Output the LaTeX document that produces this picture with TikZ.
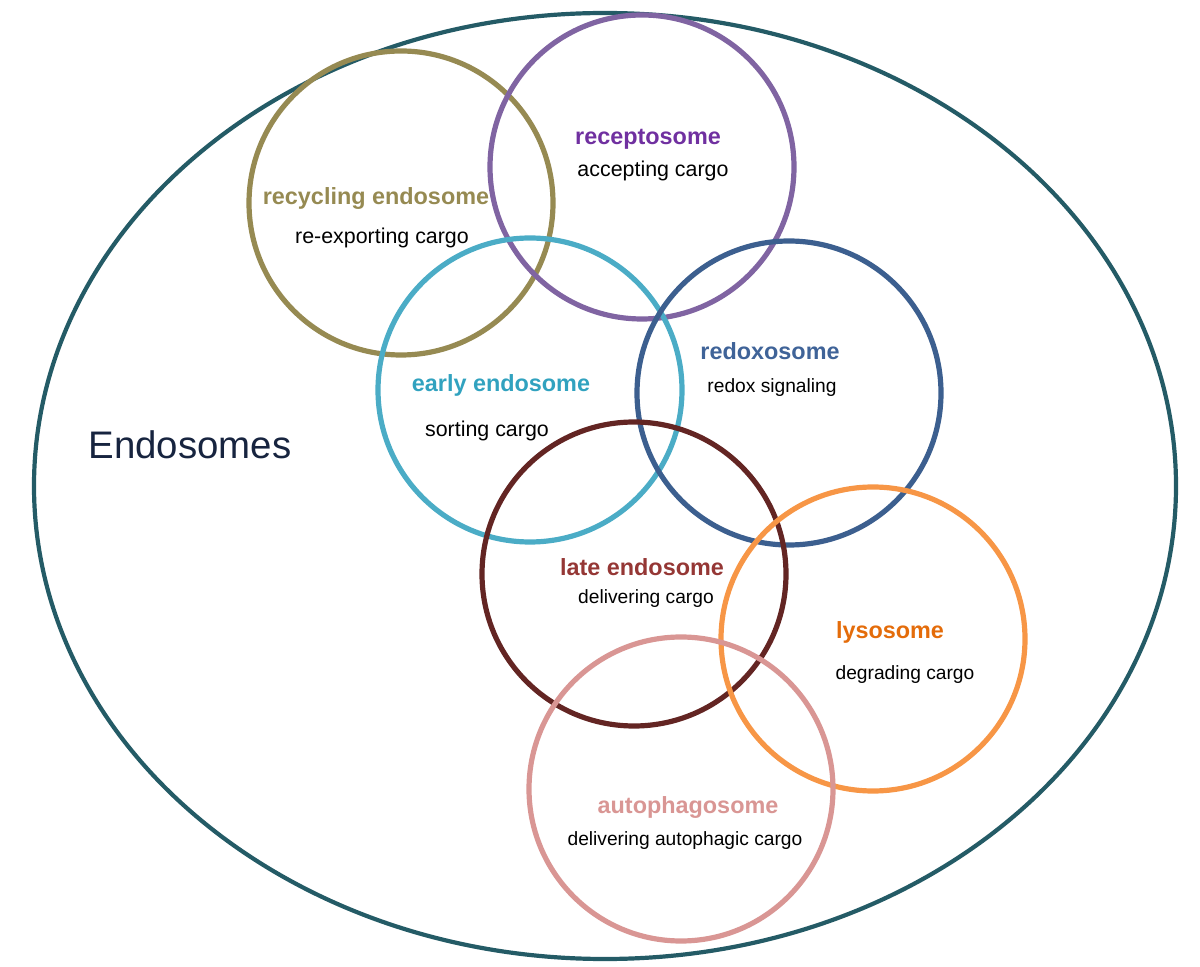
\documentclass[tikz,border=0pt]{standalone}
\usepackage{fontspec}
\setmainfont{Liberation Sans}
\usepackage{tikz}
\usepackage{xcolor}

\definecolor{outerteal}{HTML}{245B66}
\definecolor{recycol}{HTML}{968A52}
\definecolor{recepcol}{HTML}{8064A2}
\definecolor{receptxt}{HTML}{7030A0}
\definecolor{earlycol}{HTML}{4BACC6}
\definecolor{earlytxt}{HTML}{31A2BF}
\definecolor{redoxcol}{HTML}{3C5F8F}
\definecolor{redoxtxt}{HTML}{3F6398}
\definecolor{latecol}{HTML}{632523}
\definecolor{latetxt}{HTML}{953735}
\definecolor{lysocol}{HTML}{F79646}
\definecolor{lysotxt}{HTML}{E46C0A}
\definecolor{autocol}{HTML}{D99694}
\definecolor{navytxt}{HTML}{17243F}

\tikzset{
  ring/.style={circle, draw=#1, line width=2.6pt, minimum size=152pt, inner sep=0pt},
  celltitle/.style={text=#1, font=\fontsize{11.7}{14}\selectfont\bfseries, inner sep=0pt},
  celltask/.style={font=\fontsize{10.7}{13}\selectfont, inner sep=0pt},
  smalltask/.style={font=\fontsize{9.6}{12}\selectfont, inner sep=0pt}
}

\begin{document}
\begin{tikzpicture}[x=0.5pt,y=-0.5pt]
  \useasboundingbox (0,0) rectangle (1200,967);

  % Outer compartment
  \draw[outerteal, line width=2.1pt] (605,486) ellipse [x radius=571, y radius=473];
  \node[text=navytxt, font=\fontsize{19.2}{23}\selectfont, inner sep=0pt] (endo) at (190,445) {Endosomes};

  % Circles
  \node[ring=recycol] (recyc) at (401,203) {};
  \node[ring=recepcol] (recep) at (642,167) {};
  \node[ring=earlycol] (early) at (530,390) {};
  \node[ring=redoxcol] (redox) at (789,393) {};
  \node[ring=latecol] (late) at (634,574) {};
  \node[ring=lysocol] (lyso) at (873,639) {};
  \node[ring=autocol] (auto) at (681,789) {};

  % Labels
  \node[celltitle=recycol] (recycname) at (376,199) {recycling endosome};
  \node[celltask] (recyctask) at (382,238) {re-exporting cargo};
  \node[celltitle=receptxt] (recepname) at (648,139) {receptosome};
  \node[celltask] (receptask) at (653,171) {accepting cargo};
  \node[celltitle=earlytxt] (earlyname) at (501,385) {early endosome};
  \node[celltask] (earlytask) at (487,431) {sorting cargo};
  \node[celltitle=redoxtxt] (redoxname) at (770,351) {redoxosome};
  \node[smalltask] (redoxtask) at (772,388) {redox signaling};
  \node[celltitle=latetxt] (latename) at (642,567) {late endosome};
  \node[smalltask] (latetask) at (646,599) {delivering cargo};
  \node[celltitle=lysotxt] (lysoname) at (890,632) {lysosome};
  \node[smalltask] (lysotask) at (905,675) {degrading cargo};
  \node[celltitle=autocol] (autoname) at (688,808) {autophagosome};
  \node[smalltask] (autotask) at (685,841) {delivering autophagic cargo};
\end{tikzpicture}
\end{document}
